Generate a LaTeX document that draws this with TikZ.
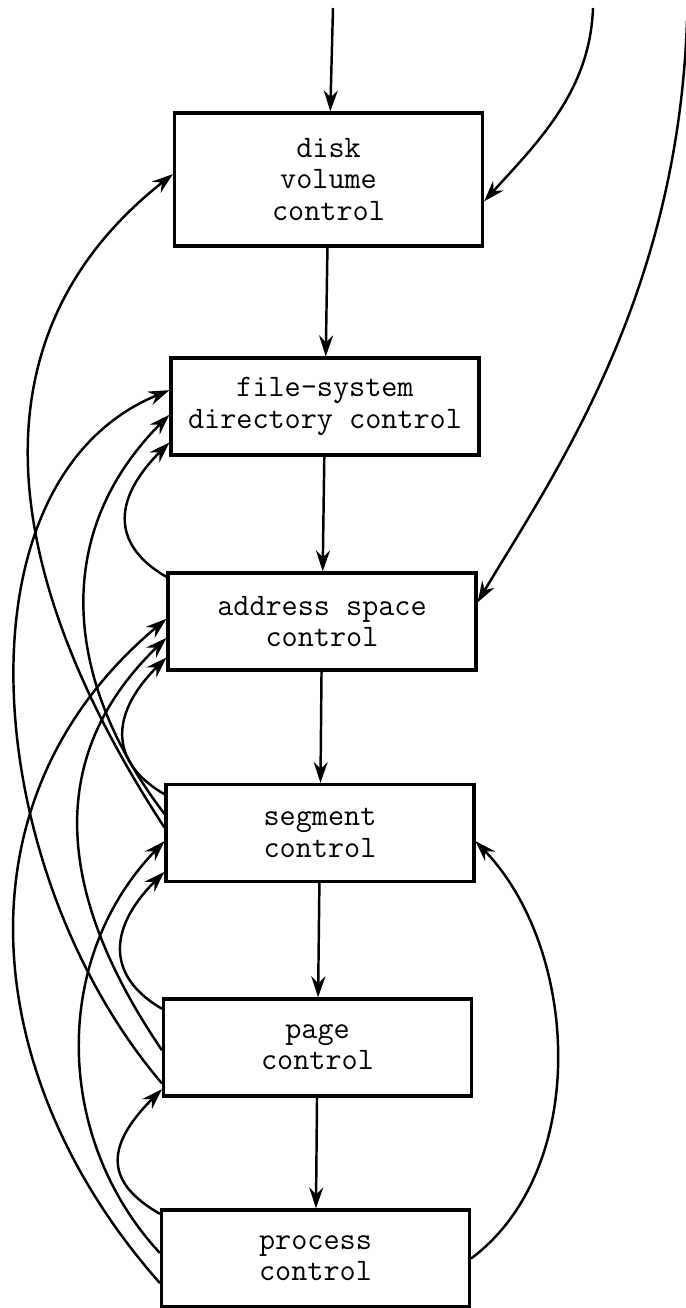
\documentclass[tikz,border=0pt]{standalone}
\usepackage{fontspec}
\usetikzlibrary{arrows.meta}
\tikzset{
    unit/.style = { draw, rectangle, line width=1.8pt, minimum width=6.16cm, minimum height=1.94cm,
                    inner sep=0pt, align=center, font=\ttfamily\fontsize{17.8}{17.8}\selectfont },
    flow/.style = { line width=1.4pt, -{Stealth[length=12pt, width=8pt, inset=4pt]} },
    call/.style = { line width=1.4pt, -{Stealth[length=12pt, width=8pt, inset=4pt]} }
}

\begin{document}
\begin{tikzpicture}[x=0.02cm, y=-0.02cm]
    %%% One unit is one pixel of the page, y runs downwards.
    \useasboundingbox (0,0) rectangle (686,1308);

    %%%
    %%% Modules
    %%%
    \node[unit, minimum height=2.66cm] (disk) at (328.5,179.5) {disk\\volume\\control};
    \node[unit] (dir)  at (325,406.5)    {file-system\\directory control};
    \node[unit] (addr) at (322,621.5)    {address space\\control};
    \node[unit] (seg)  at (320,833)      {segment\\control};
    \node[unit] (page) at (317.5,1047.5) {page\\control};
    \node[unit] (proc) at (315.5,1258.5) {process\\control};

    %%%
    %%% Calls from outside
    %%%
    \coordinate (topin)   at (333,8);
    \coordinate (rightin) at (593,8);
    \coordinate (farin)   at (687,20);
    \draw[flow] (topin) -- (disk);
    \draw[call] (rightin) .. controls (590,90) and (540,140) .. (disk.-8);
    \draw[call] (farin) .. controls (678,300) and (550,480) .. (addr.7);

    %%%
    %%% Calls down the stack
    %%%
    \foreach \caller / \callee in {disk/dir, dir/addr, addr/seg, seg/page, page/proc}
      {
        \draw[flow] (\caller) -- (\callee);
      }

    %%%
    %%% Calls up the stack
    %%%
    % Short loops to the module just above
    \foreach \caller / \ca / \callee / \cb in {addr/164/dir/193, seg/166/addr/193, page/166/seg/194, proc/164/page/195}
      {
        \draw[call] (\caller.\ca) .. controls +(-52,-30) and +(-60,60) .. (\callee.\cb);
      }
    % Long curves on the left
    \draw[call] (seg.178)  .. controls (-10,560)  and (-25,330) .. (disk.178);
    \draw[call] (page.193) .. controls (-20,870)  and (-50,480) .. (dir.174);
    \draw[call] (seg.173)  .. controls (70,690)   and (45,540)  .. (dir.183);
    \draw[call] (proc.189) .. controls (-20,1080) and (-50,800) .. (addr.179);
    \draw[call] (page.181) .. controls (60,900)   and (40,760)  .. (addr.186);
    \draw[call] (proc.178) .. controls (55,1140)  and (50,960)  .. (seg.183);
    % Curve on the right
    \draw[call] (proc.0) .. controls (590,1170) and (580,950) .. (seg.-3);
\end{tikzpicture}
\end{document}
